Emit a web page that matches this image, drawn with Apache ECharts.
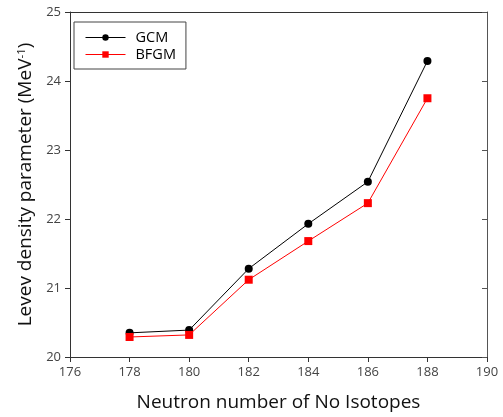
<!DOCTYPE html>
<html><head><meta charset="utf-8">
<script src="https://cdn.jsdelivr.net/npm/echarts@6/dist/echarts.min.js"></script>
<style>html,body{margin:0;padding:0;background:#fff}#c{width:503px;height:417px}</style>
</head><body><div id="c"></div>
<script>
const neutrons = [178, 180, 182, 184, 186, 188];
const gcm = [20.35, 20.39, 21.28, 21.93, 22.54, 24.29];
const bfgm = [20.29, 20.32, 21.12, 21.68, 22.23, 23.75];
const xTicks = [176, 178, 180, 182, 184, 186, 188, 190];
const yTicks = [20, 21, 22, 23, 24, 25];
const font = 'Open Sans';
const chart = echarts.init(document.getElementById('c'), null, {renderer: 'canvas'});
const axisLine = {lineStyle: {color: '#333', width: 1}};
chart.setOption({
  animation: false,
  textStyle: {fontFamily: font},
  grid: {left: 70, right: 16, top: 12, bottom: 60},
  legend: {
    left: 74, top: 22, orient: 'vertical',
    padding: [8, 10, 7, 11], itemGap: 2,
    borderColor: '#444', borderWidth: 1,
    itemWidth: 40, itemHeight: 8,
    lineStyle: {width: 1},
    textStyle: {fontFamily: font, fontSize: 14.5, color: '#000', lineHeight: 14, padding: [0, 0, 0, 5]},
    data: ['GCM', 'BFGM']
  },
  xAxis: [{
    type: 'value', min: xTicks[0], max: xTicks[xTicks.length - 1], interval: 2,
    name: 'Neutron number of No Isotopes', nameLocation: 'middle', nameGap: 36,
    nameTextStyle: {fontSize: 19, color: '#111', fontFamily: font},
    axisLine: axisLine, axisTick: {show: true, inside: false, length: 5, lineStyle: {color: '#333'}},
    axisLabel: {fontSize: 13, color: '#444', margin: 9},
    splitLine: {show: false}
  }, {
    type: 'value', position: 'top', min: xTicks[0], max: xTicks[xTicks.length - 1], interval: 2,
    axisLine: axisLine, axisTick: {show: false}, axisLabel: {show: false}, splitLine: {show: false}
  }],
  yAxis: [{
    type: 'value', min: yTicks[0], max: yTicks[yTicks.length - 1], interval: 1,
    name: '{a|Levev density parameter (MeV}{s|-1}{a|)}', nameLocation: 'middle', nameGap: 32, nameRotate: 90,
    nameTextStyle: {rich: {a: {fontSize: 19, color: '#111', fontFamily: font}, s: {fontSize: 11.5, color: '#111', fontFamily: font, verticalAlign: 'top', padding: [0, 0, 9, 0]}}},
    axisLine: {show: true, lineStyle: {color: '#333'}}, axisTick: {show: true, inside: false, length: 5, lineStyle: {color: '#333'}},
    axisLabel: {fontSize: 13, color: '#444', margin: 9},
    splitLine: {show: false}
  }, {
    type: 'value', position: 'right', min: yTicks[0], max: yTicks[yTicks.length - 1], interval: 1,
    axisLine: {show: true, lineStyle: {color: '#555'}}, axisTick: {show: true, inside: true, length: 5, lineStyle: {color: '#555'}},
    axisLabel: {show: false}, splitLine: {show: false}
  }],
  series: [{
    name: 'GCM', type: 'line', data: neutrons.map((n, i) => [n, gcm[i]]),
    symbol: 'circle', symbolSize: 8, color: '#000',
    lineStyle: {color: '#000', width: 1}, itemStyle: {color: '#000'}
  }, {
    name: 'BFGM', type: 'line', data: neutrons.map((n, i) => [n, bfgm[i]]),
    symbol: 'rect', symbolSize: 8, color: '#ff0000',
    lineStyle: {color: '#ff0000', width: 1}, itemStyle: {color: '#ff0000'}
  }]
});
</script></body></html>
